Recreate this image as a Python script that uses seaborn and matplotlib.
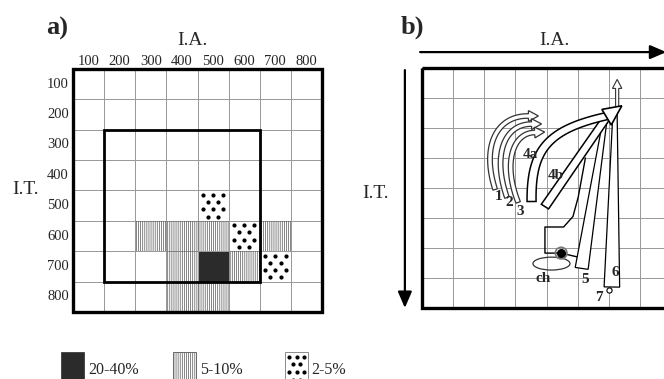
import numpy as np
import matplotlib
matplotlib.use("Agg")
import matplotlib.pyplot as plt
import seaborn as sns
from matplotlib.colors import ListedColormap
from matplotlib.patches import Rectangle, Polygon, Ellipse

sns.set_style("white")
plt.rcParams["font.family"] = ["Liberation Serif", "DejaVu Serif"]
plt.rcParams["hatch.linewidth"] = 0.5

# ---- panel a data: class of each cell (0 none, 1 = 2-5%, 2 = 5-10%, 3 = 20-40%)
ia_labels = ["100", "200", "300", "400", "500", "600", "700", "800"]
it_labels = ["100", "200", "300", "400", "500", "600", "700", "800"]
share = np.array([
    [0, 0, 0, 0, 0, 0, 0, 0],
    [0, 0, 0, 0, 0, 0, 0, 0],
    [0, 0, 0, 0, 0, 0, 0, 0],
    [0, 0, 0, 0, 0, 0, 0, 0],
    [0, 0, 0, 0, 1, 0, 0, 0],
    [0, 0, 2, 2, 2, 1, 2, 0],
    [0, 0, 0, 2, 3, 2, 1, 0],
    [0, 0, 0, 2, 2, 0, 0, 0],
])
legend_labels = ["20-40%", "5-10%", "2-5%"]
core_ia = ("200", "600")
core_it = ("300", "700")

# ---- panel b data: schematic paths in grid units (x = I.A. cell, y = I.T. cell)
arc_1 = [(2.35, 4.05), (1.9, 2.6), (2.4, 1.58), (3.42, 1.6)]
arc_2 = [(2.73, 4.32), (2.25, 2.9), (2.65, 1.86), (3.52, 1.87)]
arc_3 = [(3.09, 4.48), (2.6, 3.2), (2.9, 2.16), (3.62, 2.15)]
path_4a = [(3.52, 4.45), (3.5, 2.75), (4.0, 2.05), (5.95, 1.6)]
path_4b = [(3.95, 4.62), (5.95, 1.62)]
path_5 = [(5.13, 6.68), (5.9, 1.6)]
path_6 = [(6.1, 7.3), (6.2, 1.55)]
head_main = [(6.42, 1.26), (5.78, 1.38), (6.08, 1.9)]
path_up = [(6.27, 1.35), (6.27, 0.68)]
wall = [(5.0, 6.3), (4.47, 6.17), (3.95, 6.17), (3.95, 5.3), (4.55, 5.3),
        (4.85, 4.95), (5.02, 4.3), (5.25, 3.0)]
vent = (4.47, 6.17)
ch_center = (4.16, 6.52)
spring_7 = (6.0, 7.4)
labels_b = [("1", 2.45, 4.3), ("2", 2.8, 4.5), ("3", 3.15, 4.78),
            ("4a", 3.47, 2.9), ("4b", 4.3, 3.57), ("ch", 3.9, 7.0),
            ("5", 5.25, 7.05), ("6", 6.2, 6.8), ("7", 5.68, 7.65)]


def curve(p, n=40):
    p = np.asarray(p, float)
    t = np.linspace(0, 1, n)[:, None]
    if len(p) == 2:
        return p[0] * (1 - t) + p[1] * t
    return ((1 - t) ** 3 * p[0] + 3 * (1 - t) ** 2 * t * p[1]
            + 3 * (1 - t) * t ** 2 * p[2] + t ** 3 * p[3])


def band(p, w0, w1, head=None):
    c = curve(p)
    d = np.gradient(c, axis=0)
    d /= np.linalg.norm(d, axis=1)[:, None]
    nrm = np.c_[-d[:, 1], d[:, 0]]
    w = np.linspace(w0, w1, len(c))[:, None] / 2
    pts = [c + nrm * w]
    if head:
        hl, hw = head
        pts.append([c[-1] + nrm[-1] * hw / 2, c[-1] + d[-1] * hl,
                    c[-1] - nrm[-1] * hw / 2])
    pts.append((c - nrm * w)[::-1])
    return np.vstack(pts)


fig = plt.figure(figsize=(6.64, 3.79), dpi=100)

# ---------------- panel a
axa = fig.add_axes([73 / 664, 1 - 312 / 379, 249 / 664, 243 / 379])
cmap = ListedColormap(["white", "white", "white", "#2b2b2b"])
sns.heatmap(share, cmap=cmap, vmin=-0.5, vmax=3.5, cbar=False,
            linewidths=0.7, linecolor="#9a9a9a",
            xticklabels=ia_labels, yticklabels=it_labels, ax=axa)
axa.xaxis.tick_top()
axa.tick_params(length=0, labelsize=10.5, pad=1)
axa.tick_params(axis="y", pad=3)
plt.setp(axa.get_xticklabels(), rotation=0)
plt.setp(axa.get_yticklabels(), rotation=0)

dot_dx = [0.17, 0.5, 0.83, 0.33, 0.67, 0.17, 0.5, 0.83, 0.33, 0.67]
dot_dy = [0.15, 0.15, 0.15, 0.38, 0.38, 0.62, 0.62, 0.62, 0.86, 0.86]
for i in range(share.shape[0]):
    for j in range(share.shape[1]):
        if share[i, j] == 2:
            axa.add_patch(Rectangle((j, i), 1, 1, fill=False, hatch="|" * 8,
                                    ec="#555555", lw=0))
        elif share[i, j] == 1:
            axa.scatter(j + np.array(dot_dx), i + np.array(dot_dy), s=4,
                        color="k", zorder=3)

x0 = ia_labels.index(core_ia[0])
x1 = ia_labels.index(core_ia[1]) + 1
y0 = it_labels.index(core_it[0])
y1 = it_labels.index(core_it[1]) + 1
axa.add_patch(Rectangle((x0, y0), x1 - x0, y1 - y0, fill=False, lw=2, ec="k", zorder=4))
axa.add_patch(Rectangle((0, 0), 8, 8, fill=False, lw=2.4, ec="k", clip_on=False, zorder=4))
axa.text(-0.51, -1.32, "a)", fontsize=19, fontweight="bold", ha="center", va="center")
axa.text(3.83, -0.95, "I.A.", fontsize=14, ha="center", va="center")
axa.text(-1.54, 3.98, "I.T.", fontsize=14, ha="center", va="center")

# ---------------- panel b
axb = fig.add_axes([422 / 664, 1 - 308 / 379, 249 / 664, 240 / 379])
sns.heatmap(np.zeros((8, 8)), cmap=ListedColormap(["white"]), cbar=False,
            linewidths=0.7, linecolor="#9a9a9a",
            xticklabels=False, yticklabels=False, ax=axb)
axb.add_patch(Rectangle((0, 0), 8, 8, fill=False, lw=2.4, ec="k", clip_on=False, zorder=6))

arrow_kw = dict(arrowstyle="-|>,head_length=0.7,head_width=0.3", lw=1.6,
                color="k", mutation_scale=14, shrinkA=0, shrinkB=0)
axb.annotate("", xy=(7.85, -0.53), xytext=(-0.06, -0.53), arrowprops=arrow_kw,
             annotation_clip=False)
axb.annotate("", xy=(-0.55, 8.0), xytext=(-0.55, 0.07), arrowprops=arrow_kw,
             annotation_clip=False)
axb.text(-0.32, -1.37, "b)", fontsize=19, fontweight="bold", ha="center", va="center")
axb.text(4.24, -0.93, "I.A.", fontsize=14, ha="center", va="center")
axb.text(-1.48, 4.17, "I.T.", fontsize=14, ha="center", va="center")

for arc in (arc_1, arc_2, arc_3):
    axb.add_patch(Polygon(band(arc, 0.15, 0.15, head=(0.32, 0.36)), closed=True,
                          fc="white", ec="#333333", lw=0.9, zorder=3))

wall_xy = np.array(wall)
axb.plot(wall_xy[:, 0], wall_xy[:, 1], color="k", lw=1.0, zorder=3)
axb.add_patch(Ellipse(ch_center, 1.19, 0.43, fill=False, ec="#333333", lw=0.9, zorder=3))
axb.add_patch(Polygon(band(path_6, 0.5, 0.14), closed=True, fc="white", ec="k", lw=0.9, zorder=4))
axb.add_patch(Polygon(band(path_5, 0.42, 0.12), closed=True, fc="white", ec="k", lw=0.9, zorder=4))
axb.add_patch(Polygon(band(path_4b, 0.28, 0.24), closed=True, fc="white", ec="k", lw=1.1, zorder=4))
axb.add_patch(Polygon(band(path_4a, 0.29, 0.24), closed=True, fc="white", ec="k", lw=1.1, zorder=4))
axb.add_patch(Polygon(band(path_up, 0.1, 0.1, head=(0.3, 0.3)), closed=True,
                      fc="white", ec="#333333", lw=0.8, zorder=4))
axb.add_patch(Polygon(head_main, closed=True, fc="white", ec="k", lw=1.2, zorder=5))

axb.scatter([vent[0]], [vent[1]], s=70, facecolor="none", edgecolor="#777777",
            lw=1.2, zorder=5)
axb.scatter([vent[0]], [vent[1]], s=30, color="k", zorder=6)
axb.scatter([spring_7[0]], [spring_7[1]], s=14, facecolor="white", edgecolor="k",
            lw=0.8, zorder=6)
for txt, tx, ty in labels_b:
    axb.text(tx, ty, txt, fontsize=11, fontweight="bold", ha="center",
             va="center", zorder=7)

# ---------------- legend strip
axl = fig.add_axes([0, 0, 1, 38 / 379])
axl.set_xlim(0, 664)
axl.set_ylim(0, 38)
axl.axis("off")
swatch_x = [61, 173, 285]
text_x = [88, 200, 311]
axl.add_patch(Rectangle((swatch_x[0], -5), 23, 32, fc="#2b2b2b", ec="#2b2b2b", lw=0.5))
axl.add_patch(Rectangle((swatch_x[1], -5), 23, 32, fill=False, hatch="|" * 8,
                        ec="#555555", lw=0.6))
axl.add_patch(Rectangle((swatch_x[2], -5), 23, 32, fill=False, ec="#777777", lw=0.6))
axl.scatter(swatch_x[2] + 23 * np.array(dot_dx), 27 - 32 * np.array(dot_dy), s=4, color="k")
for lab, tx in zip(legend_labels, text_x):
    axl.text(tx, 8.5, lab, fontsize=11.5, ha="left", va="center")

fig.savefig("out.png", dpi=100)
